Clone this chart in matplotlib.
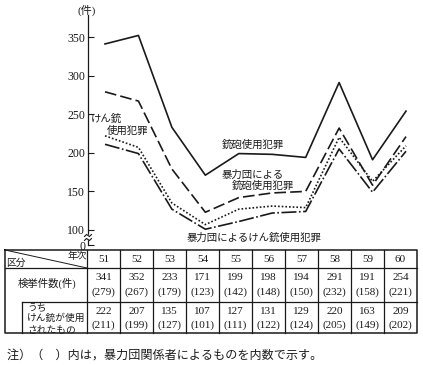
import matplotlib
matplotlib.use("Agg")
import matplotlib.pyplot as plt

years = [51, 52, 53, 54, 55, 56, 57, 58, 59, 60]
gun_total = [341, 352, 233, 171, 199, 198, 194, 291, 191, 254]
gun_gang = [279, 267, 179, 123, 142, 148, 150, 232, 158, 221]
pistol_total = [222, 207, 135, 107, 127, 131, 129, 220, 163, 209]
pistol_gang = [211, 199, 127, 101, 111, 122, 124, 205, 149, 202]
yticks = [100, 150, 200, 250, 300, 350]

JP = ['Noto Sans CJK JP', 'DejaVu Sans']
NUM = ['Liberation Serif', 'Noto Sans CJK JP']
INK = '#1a1a1a'

W, H = 423, 365
fig = plt.figure(figsize=(W / 100, H / 100), dpi=100)

# ---- chart axes (pixel layout) ----
ax_l, ax_r, ax_t, ax_b = 88, 418, 15, 245
ax = fig.add_axes([ax_l / W, 1 - ax_b / H, (ax_r - ax_l) / W, (ax_b - ax_t) / H])
ppu = (230 - 37) / 250.0  # px per unit
ax.set_ylim(100 - (245 - 230) / ppu, 350 + (37 - 15) / ppu)
dx = (406 - 105) / 9.0
ax.set_xlim(51 - (105 - ax_l) / dx, 60 + (ax_r - 406) / dx)
for s in ['top', 'right', 'bottom']:
    ax.spines[s].set_visible(False)
ax.spines['left'].set_linewidth(0.9)
ax.spines['left'].set_color(INK)
ax.set_xticks([])
ax.set_yticks(yticks + [ax.get_ylim()[0]])
ax.set_yticklabels([str(v) for v in yticks] + ['0'], family=NUM, fontsize=8.5, color=INK)
ax.tick_params(axis='y', direction='in', length=4, width=0.8, pad=2, colors=INK)
ax.patch.set_alpha(0)

ax.plot(years, gun_total, color=INK, lw=1.2, ls='-')
ax.plot(years, gun_gang, color=INK, lw=1.2, ls=(0, (7, 2.5)))
ax.plot(years, pistol_total, color=INK, lw=1.2, ls=(0, (1, 1.2)))
ax.plot(years, pistol_gang, color=INK, lw=1.2, ls=(0, (9, 1.5, 1, 1.5)))

# ---- overlay in pixel coords ----
ov = fig.add_axes([0, 0, 1, 1], zorder=5)
ov.set_xlim(0, W)
ov.set_ylim(H, 0)
ov.axis('off')
ov.patch.set_alpha(0)

# axis break marks
ov.add_patch(plt.Rectangle((85, 235), 6, 4, color='white', zorder=6))
for yy in (235, 239):
    ov.plot([84.5, 86.5, 89.5, 91.5], [yy + 1.5, yy - 0.5, yy + 1.5, yy - 0.5], color=INK, lw=0.8, zorder=7)

ov.text(87, 10, '(件)', family=NUM, fontsize=8, ha='center', va='center', color=INK)

def jt(x, y, s, size=7.5, ha='left'):
    ov.text(x, y, s, family=JP, fontsize=size, ha=ha, va='center', color=INK)

jt(91, 119, 'けん銃')
jt(107, 131, '使用犯罪')
jt(222, 145, '銃砲使用犯罪')
jt(222, 175, '暴力団による')
jt(232, 186, '銃砲使用犯罪')
jt(187, 238, '暴力団によるけん銃使用犯罪')

# ---- table ----
tl, tr = 5, 417
c0 = 87
cw = (tr - c0) / len(years)
r0, r1, r2, r3 = 250, 268, 302, 333
lw = 0.9
ov.plot([tl, tr, tr, tl, tl], [r0, r0, r3, r3, r0], color=INK, lw=1.1)
ov.plot([tl, tr], [r1, r1], color=INK, lw=lw)
ov.plot([22, tr], [r2, r2], color=INK, lw=lw)
ov.plot([22, 22], [r2, r3], color=INK, lw=lw)
for i in range(len(years)):
    x = c0 + i * cw
    ov.plot([x, x], [r0, r3], color=INK, lw=lw)
ov.plot([tl, c0], [r0, r1], color=INK, lw=0.7)
ov.text(77, 256, '年次', family=JP, fontsize=7, ha='center', va='center', color=INK)
ov.text(16, 263, '区分', family=JP, fontsize=7, ha='center', va='center', color=INK)
ov.text(47, 283, '検挙件数(件)', family=NUM, fontsize=7.5, ha='center', va='center', color=INK)
jt(27, 307, 'うち', size=7)
jt(27, 318, 'けん銃が使用', size=7)
jt(27, 329, 'されたもの', size=7)

for i, yr in enumerate(years):
    x = c0 + (i + 0.5) * cw
    ov.text(x, 259, str(yr), family=NUM, fontsize=8, ha='center', va='center', color=INK)
    ov.text(x, 278, str(gun_total[i]), family=NUM, fontsize=8, ha='center', va='center', color=INK)
    ov.text(x, 292, '(%d)' % gun_gang[i], family=NUM, fontsize=8, ha='center', va='center', color=INK)
    ov.text(x, 311, str(pistol_total[i]), family=NUM, fontsize=8, ha='center', va='center', color=INK)
    ov.text(x, 325, '(%d)' % pistol_gang[i], family=NUM, fontsize=8, ha='center', va='center', color=INK)

ov.text(7, 355, '注）（　）内は，暴力団関係者によるものを内数で示す。', family=JP, fontsize=8.7,
        ha='left', va='center', color=INK)

fig.savefig('out.png', dpi=100, facecolor='white')
